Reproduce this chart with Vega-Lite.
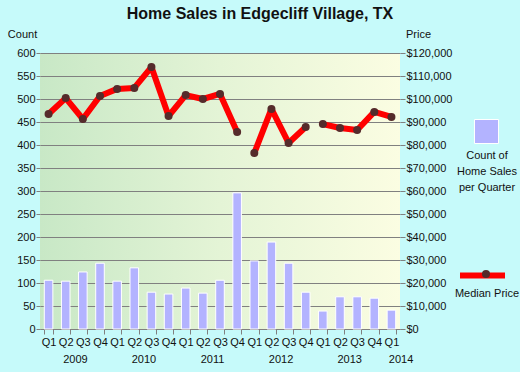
{
  "$schema": "https://vega.github.io/schema/vega-lite/v6.json",
  "width": 360,
  "height": 276,
  "autosize": {"type": "none"},
  "padding": {"left": 40, "top": 53, "right": 120, "bottom": 43},
  "background": "#c6fafa",
  "title": {
    "text": "Home Sales in Edgecliff Village, TX",
    "font": "Liberation Sans",
    "fontSize": 16,
    "fontWeight": "bold",
    "color": "#111111",
    "anchor": "middle",
    "frame": "group",
    "dx": 40,
    "offset": 6
  },
  "data": {
    "values": [
      {"q": "2009-Q1", "count": 106, "price": 93500, "seg": 1},
      {"q": "2009-Q2", "count": 104, "price": 100400, "seg": 1},
      {"q": "2009-Q3", "count": 124, "price": 91300, "seg": 1},
      {"q": "2009-Q4", "count": 143, "price": 101300, "seg": 1},
      {"q": "2010-Q1", "count": 104, "price": 104400, "seg": 1},
      {"q": "2010-Q2", "count": 133, "price": 104800, "seg": 1},
      {"q": "2010-Q3", "count": 80, "price": 113900, "seg": 1},
      {"q": "2010-Q4", "count": 76, "price": 92600, "seg": 1},
      {"q": "2011-Q1", "count": 89, "price": 101700, "seg": 1},
      {"q": "2011-Q2", "count": 78, "price": 100000, "seg": 1},
      {"q": "2011-Q3", "count": 106, "price": 102200, "seg": 1},
      {"q": "2011-Q4", "count": 296, "price": 85700, "seg": 1},
      {"q": "2012-Q1", "count": 148, "price": 76500, "seg": 2},
      {"q": "2012-Q2", "count": 189, "price": 95700, "seg": 2},
      {"q": "2012-Q3", "count": 143, "price": 80900, "seg": 2},
      {"q": "2012-Q4", "count": 80, "price": 87800, "seg": 2},
      {"q": "2013-Q1", "count": 39, "price": 89100, "seg": 3},
      {"q": "2013-Q2", "count": 70, "price": 87400, "seg": 3},
      {"q": "2013-Q3", "count": 70, "price": 86500, "seg": 3},
      {"q": "2013-Q4", "count": 67, "price": 94400, "seg": 3},
      {"q": "2014-Q1", "count": 41, "price": 92200, "seg": 3}
    ]
  },
  "resolve": {"scale": {"y": "independent"}},
  "layer": [
    {
      "mark": {"type": "bar", "stroke": "white", "strokeWidth": 1},
      "encoding": {
        "x": {
          "field": "q",
          "type": "ordinal",
          "scale": {"paddingInner": 0.5, "paddingOuter": 0.25},
          "axis": {
            "orient": "bottom",
            "title": null,
            "labelExpr": "(indexof(datum.label,'Q2')>=0 || datum.label=='2014-Q1') ? [split(datum.label,'-')[1], '\u200b\u00a0\u00a0\u00a0\u00a0\u00a0\u00a0' + slice(datum.label,0,4)] : split(datum.label,'-')[1]",
            "labelAngle": 0,
            "labelFontSize": 11,
            "labelLineHeight": 17,
            "labelBaseline": "top",
            "labelPadding": 2,
            "labelOverlap": false,
            "tickBand": "extent",
            "tickSize": 5,
            "tickColor": "#808080",
            "domainColor": "#808080",
            "grid": false
          }
        },
        "y": {
          "field": "count",
          "type": "quantitative",
          "scale": {"domain": [0, 600], "nice": false},
          "axis": {
            "orient": "left",
            "values": [0, 50, 100, 150, 200, 250, 300, 350, 400, 450, 500, 550, 600],
            "title": "Count",
            "titleAngle": 0,
            "titleX": -18,
            "titleY": -14,
            "titleAlign": "center",
            "titleBaseline": "bottom",
            "titleFontWeight": "normal",
            "titleFontSize": 11,
            "grid": true,
            "gridColor": "#808080",
            "gridOpacity": 1,
            "domain": false,
            "tickSize": 4,
            "tickColor": "#808080",
            "labelPadding": 1,
            "labelFontSize": 11,
            "labelOverlap": false
          }
        },
        "fill": {
          "datum": "Count of Home Sales per Quarter",
          "scale": {"range": ["#b3b3ff"]},
          "legend": {
            "orient": "none",
            "legendX": 417,
            "legendY": 66,
            "title": ["Count of", "Home Sales", "per Quarter"],
            "titleOrient": "bottom",
            "titleAnchor": "middle",
            "titleAlign": "center",
            "titleFontWeight": "normal",
            "titleFontSize": 11,
            "titleLineHeight": 16,
            "titlePadding": 4,
            "symbolType": "square",
            "symbolSize": 576,
            "symbolStrokeColor": "white",
            "symbolStrokeWidth": 1,
            "symbolFillColor": "#b3b3ff",
            "labelExpr": "''",
            "labelOffset": 0
          }
        }
      }
    },
    {
      "layer": [
        {
          "mark": {"type": "line", "color": "#ff0000", "strokeWidth": 6, "strokeJoin": "round"},
          "encoding": {
            "x": {"field": "q", "type": "ordinal"},
            "y": {
              "field": "price",
              "type": "quantitative",
              "scale": {"domain": [0, 120000], "nice": false},
              "axis": {
                "orient": "right",
                "values": [0, 10000, 20000, 30000, 40000, 50000, 60000, 70000, 80000, 90000, 100000, 110000, 120000],
                "format": "$,d",
                "title": "Price",
                "titleAngle": 0,
                "titleX": 18,
                "titleY": -14,
                "titleAlign": "center",
                "titleBaseline": "bottom",
                "titleFontWeight": "normal",
                "titleFontSize": 11,
                "grid": false,
                "domain": false,
                "tickSize": 5,
                "tickColor": "#808080",
                "labelPadding": 1,
                "labelFontSize": 11,
                "labelOverlap": false
              }
            },
            "detail": {"field": "seg"},
            "stroke": {
              "datum": "Median Price",
              "scale": {"range": ["#ff0000"]},
              "legend": {
                "orient": "none",
                "legendX": 415,
                "legendY": 197,
                "title": "Median Price",
                "titleOrient": "bottom",
                "titleAnchor": "middle",
                "titleAlign": "center",
                "titleFontWeight": "normal",
                "titleFontSize": 11,
                "titlePadding": 0,
                "symbolType": "stroke",
                "symbolSize": 2025,
                "symbolStrokeWidth": 6,
                "symbolStrokeColor": "#ff0000",
                "labelExpr": "''",
                "labelOffset": 0
              }
            }
          }
        },
        {
          "mark": {"type": "point", "filled": true, "color": "#552b2b", "size": 64, "opacity": 1},
          "encoding": {
            "x": {"field": "q", "type": "ordinal"},
            "y": {
              "field": "price",
              "type": "quantitative",
              "scale": {"domain": [0, 120000], "nice": false},
              "axis": {
                "orient": "right",
                "values": [0, 10000, 20000, 30000, 40000, 50000, 60000, 70000, 80000, 90000, 100000, 110000, 120000],
                "format": "$,d",
                "title": "Price",
                "titleAngle": 0,
                "titleX": 18,
                "titleY": -14,
                "titleAlign": "center",
                "titleBaseline": "bottom",
                "titleFontWeight": "normal",
                "titleFontSize": 11,
                "grid": false,
                "domain": false,
                "tickSize": 5,
                "tickColor": "#808080",
                "labelPadding": 1,
                "labelFontSize": 11,
                "labelOverlap": false
              }
            },
            "shape": {
              "datum": "dot",
              "scale": {"range": ["circle"]},
              "legend": {
                "orient": "none",
                "legendX": 441,
                "legendY": 216,
                "title": null,
                "symbolType": "circle",
                "symbolSize": 64,
                "symbolFillColor": "#552b2b",
                "symbolStrokeWidth": 0,
                "symbolOpacity": 1,
                "labelExpr": "''",
                "labelOffset": 0
              }
            }
          }
        }
      ]
    }
  ],
  "config": {
    "font": "Liberation Sans",
    "view": {
      "fill": {
        "gradient": "linear",
        "x1": 0, "y1": 0, "x2": 1, "y2": 0,
        "stops": [
          {"offset": 0, "color": "#c8e8c6"},
          {"offset": 0.5, "color": "#e4f4d6"},
          {"offset": 1, "color": "#fbfde2"}
        ]
      },
      "stroke": null
    },
    "axis": {"labelColor": "#111111", "titleColor": "#111111", "labelFont": "Liberation Sans", "titleFont": "Liberation Sans"},
    "legend": {"titleColor": "#111111", "labelColor": "#111111", "titleFont": "Liberation Sans", "padding": 0}
  }
}
